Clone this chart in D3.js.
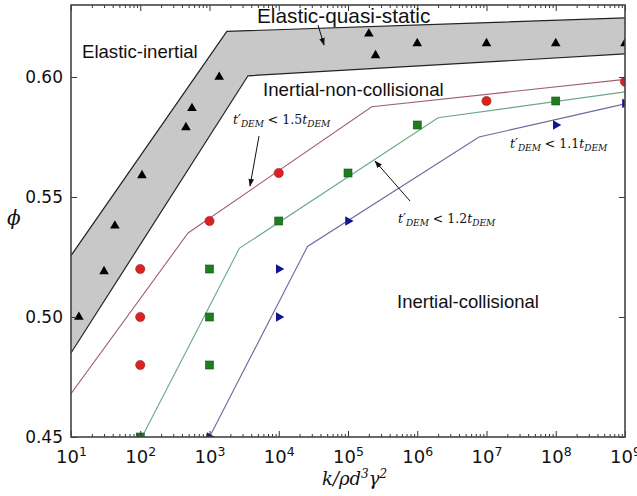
<!DOCTYPE html>
<html>
<head>
<meta charset="utf-8">
<script src="https://cdn.jsdelivr.net/npm/d3@7"></script>
<style>
  body { margin: 0; background: #fff; }
  svg { display: block; }
  .tick text { font-family: "DejaVu Sans", sans-serif; fill: #111; }
  .tick line { stroke: #333; }
  .region { font-family: "Liberation Sans", Arial, sans-serif; fill: #111; }
  .note { font-family: "DejaVu Serif", "Liberation Serif", serif; fill: #111; }
</style>
</head>
<body>
<div id="chart"></div>
<script>
// Packing fraction vs. dimensionless stiffness, regime map

const W = 637, H = 496;
const margin = { top: 5, right: 12, bottom: 59, left: 71 };

// gray band (elastic-quasi-static / elastic-inertial transition)
const bandUpperK = [10, 1780, 1e9];
const bandUpperPhi = [0.5256, 0.619, 0.6246];
const bandLowerK = [10, 3600, 1e9];
const bandLowerPhi = [0.485, 0.6005, 0.6096];

// boundary lines
const line15K = [10, 490, 2.2e5, 1e9];
const line15Phi = [0.468, 0.535, 0.5876, 0.599];
const line12K = [106, 2700, 2e6, 1e9];
const line12Phi = [0.45, 0.5286, 0.583, 0.5938];
const line11K = [1000, 2.6e4, 7.8e6, 1e9];
const line11Phi = [0.45, 0.5294, 0.575, 0.5888];

// simulation points
const triK = [13, 30, 43, 106, 457, 558, 1380, 2e5, 2.5e5, 1e6, 1e7, 1e8, 1e9];
const triPhi = [0.500, 0.519, 0.538, 0.559, 0.579, 0.587, 0.600, 0.618, 0.609, 0.614, 0.614, 0.614, 0.614];
const circK = [100, 100, 100, 1e3, 1e4, 1e7, 1e9];
const circPhi = [0.48, 0.50, 0.52, 0.54, 0.56, 0.59, 0.598];
const sqK = [100, 1e3, 1e3, 1e3, 1e4, 1e5, 1e6, 1e8];
const sqPhi = [0.45, 0.48, 0.50, 0.52, 0.54, 0.56, 0.58, 0.59];
const rtK = [1e3, 1e4, 1e4, 1e5, 1e8, 1e9];
const rtPhi = [0.45, 0.50, 0.52, 0.54, 0.58, 0.589];

const xMajor = [1e1, 1e2, 1e3, 1e4, 1e5, 1e6, 1e7, 1e8, 1e9];
const yTicks = [0.45, 0.50, 0.55, 0.60];

const svg = d3.select('#chart').append('svg')
    .attr('width', W)
    .attr('height', H);

const x = d3.scaleLog().domain([10, 1e9]).range([margin.left, W - margin.right]);
const y = d3.scaleLinear().domain([0.45, 0.63]).range([H - margin.bottom, margin.top]);

const zip = (a, b) => a.map((v, i) => [v, b[i]]);

svg.append('clipPath').attr('id', 'plot')
    .append('rect')
    .attr('x', margin.left).attr('y', margin.top)
    .attr('width', W - margin.left - margin.right)
    .attr('height', H - margin.top - margin.bottom);

const g = svg.append('g').attr('clip-path', 'url(#plot)');

const lineGen = d3.line().x(d => x(d[0])).y(d => y(d[1]));

// band
const bandPts = zip(bandUpperK, bandUpperPhi).concat(zip(bandLowerK, bandLowerPhi).reverse());
g.append('path')
    .attr('d', lineGen(bandPts) + 'Z')
    .attr('fill', '#c8c8c8');
[zip(bandUpperK, bandUpperPhi), zip(bandLowerK, bandLowerPhi)].forEach(pts => {
    g.append('path')
        .attr('d', lineGen(pts))
        .attr('fill', 'none')
        .attr('stroke', '#222')
        .attr('stroke-width', 1.2);
});

// boundary lines
const lines = [
    { pts: zip(line15K, line15Phi), color: '#a0606e' },
    { pts: zip(line12K, line12Phi), color: '#6aa88a' },
    { pts: zip(line11K, line11Phi), color: '#6a6a9e' }
];
lines.forEach(l => {
    g.append('path')
        .attr('d', lineGen(l.pts))
        .attr('fill', 'none')
        .attr('stroke', l.color)
        .attr('stroke-width', 1.1);
});

// markers
g.selectAll('.tri')
    .data(zip(triK, triPhi))
    .enter().append('path')
    .attr('d', d3.symbol(d3.symbolTriangle, 40))
    .attr('transform', d => `translate(${x(d[0])},${y(d[1])})`)
    .attr('fill', '#000');

g.selectAll('.circ')
    .data(zip(circK, circPhi))
    .enter().append('circle')
    .attr('cx', d => x(d[0]))
    .attr('cy', d => y(d[1]))
    .attr('r', 4.6)
    .attr('fill', '#e0201e')
    .attr('stroke', '#8a2020')
    .attr('stroke-width', 0.6);

g.selectAll('.sq')
    .data(zip(sqK, sqPhi))
    .enter().append('rect')
    .attr('x', d => x(d[0]) - 4)
    .attr('y', d => y(d[1]) - 4)
    .attr('width', 8)
    .attr('height', 8)
    .attr('fill', '#1e7e1e')
    .attr('stroke', '#145214')
    .attr('stroke-width', 0.6);

g.selectAll('.rt')
    .data(zip(rtK, rtPhi))
    .enter().append('path')
    .attr('d', d3.symbol(d3.symbolTriangle, 40))
    .attr('transform', d => `translate(${x(d[0])},${y(d[1])}) rotate(90)`)
    .attr('fill', '#14148c');

// axes (ticks point inward)
const minorK = [];
for (let e = 1; e < 9; e++) {
    for (let m = 2; m <= 9; m++) minorK.push(m * Math.pow(10, e));
}

const yBottom = H - margin.bottom;
const yTop = margin.top;

svg.append('g')
    .attr('transform', `translate(0,${yBottom})`)
    .call(d3.axisBottom(x).tickValues(minorK).tickSize(-3).tickFormat(''));
svg.append('g')
    .attr('transform', `translate(0,${yTop})`)
    .call(d3.axisTop(x).tickValues(minorK).tickSize(-3).tickFormat(''));

const xAxisG = svg.append('g')
    .attr('transform', `translate(0,${yBottom})`)
    .call(d3.axisBottom(x).tickValues(xMajor).tickSize(-6).tickPadding(10));
xAxisG.selectAll('.tick text')
    .text('')
    .attr('font-size', 18)
    .attr('dy', '0.9em')
    .each(function (d) {
        const t = d3.select(this);
        t.append('tspan').text('10');
        t.append('tspan')
            .attr('font-size', 12.5)
            .attr('dy', '-0.6em')
            .text(Math.round(Math.log10(d)));
    });

svg.append('g')
    .attr('transform', `translate(0,${yTop})`)
    .call(d3.axisTop(x).tickValues(xMajor).tickSize(-6).tickFormat(''));

const yAxisG = svg.append('g')
    .attr('transform', `translate(${margin.left},0)`)
    .call(d3.axisLeft(y).tickValues(yTicks).tickSize(-6).tickPadding(8).tickFormat(d3.format('.2f')));
yAxisG.selectAll('.tick text').attr('font-size', 17);

svg.append('g')
    .attr('transform', `translate(${W - margin.right},0)`)
    .call(d3.axisRight(y).tickValues(yTicks).tickSize(-6).tickFormat(''));

svg.selectAll('.domain').remove();

// frame
svg.append('rect')
    .attr('x', margin.left).attr('y', margin.top)
    .attr('width', W - margin.left - margin.right)
    .attr('height', H - margin.top - margin.bottom)
    .attr('fill', 'none')
    .attr('stroke', '#444')
    .attr('stroke-width', 1.6);

// axis titles
const xt = svg.append('text')
    .attr('class', 'note')
    .attr('x', 322).attr('y', 485)
    .attr('font-size', 18)
    .attr('font-style', 'italic');
xt.append('tspan').text('k/ρd');
xt.append('tspan').attr('font-size', 12).attr('dy', -7).text('3');
xt.append('tspan').attr('dy', 7).text('γ');
xt.append('tspan').attr('font-size', 12).attr('dy', -7).text('2');

svg.append('text')
    .attr('class', 'note')
    .attr('x', 7).attr('y', 225)
    .attr('font-size', 20)
    .attr('font-style', 'italic')
    .text('ϕ');

// region labels
const regions = [
    { text: 'Elastic-inertial', x: 82, y: 58, size: 18.6 },
    { text: 'Elastic-quasi-static', x: 257, y: 23, size: 20.8 },
    { text: 'Inertial-non-collisional', x: 263, y: 96, size: 18.7 },
    { text: 'Inertial-collisional', x: 397, y: 308, size: 18.5 }
];
regions.forEach(r => {
    svg.append('text')
        .attr('class', 'region')
        .attr('x', r.x).attr('y', r.y)
        .attr('font-size', r.size)
        .text(r.text);
});

// criterion annotations
function criterion(xPos, yPos, factor) {
    const t = svg.append('text')
        .attr('class', 'note')
        .attr('x', xPos).attr('y', yPos)
        .attr('font-size', 12.5);
    t.append('tspan').attr('font-style', 'italic').text('t′');
    t.append('tspan').attr('font-style', 'italic').attr('font-size', 9).attr('dy', 3).text('DEM');
    t.append('tspan').attr('dy', -3).text(' < ' + factor);
    t.append('tspan').attr('font-style', 'italic').text('t');
    t.append('tspan').attr('font-style', 'italic').attr('font-size', 9).attr('dy', 3).text('DEM');
}
criterion(233, 124, '1.5');
criterion(398, 223, '1.2');
criterion(510, 148, '1.1');

// arrows
svg.append('defs').append('marker')
    .attr('id', 'head')
    .attr('viewBox', '0 0 10 10')
    .attr('refX', 9).attr('refY', 5)
    .attr('markerWidth', 8).attr('markerHeight', 8)
    .attr('orient', 'auto')
    .append('path')
    .attr('d', 'M0,1.5 L10,5 L0,8.5 Z')
    .attr('fill', '#111');

const arrows = [
    [[318, 25], [324, 45]],
    [[259, 136], [250, 186]],
    [[410, 201], [375, 161]]
];
arrows.forEach(a => {
    svg.append('line')
        .attr('x1', a[0][0]).attr('y1', a[0][1])
        .attr('x2', a[1][0]).attr('y2', a[1][1])
        .attr('stroke', '#111')
        .attr('stroke-width', 1)
        .attr('marker-end', 'url(#head)');
});
</script>
</body>
</html>
